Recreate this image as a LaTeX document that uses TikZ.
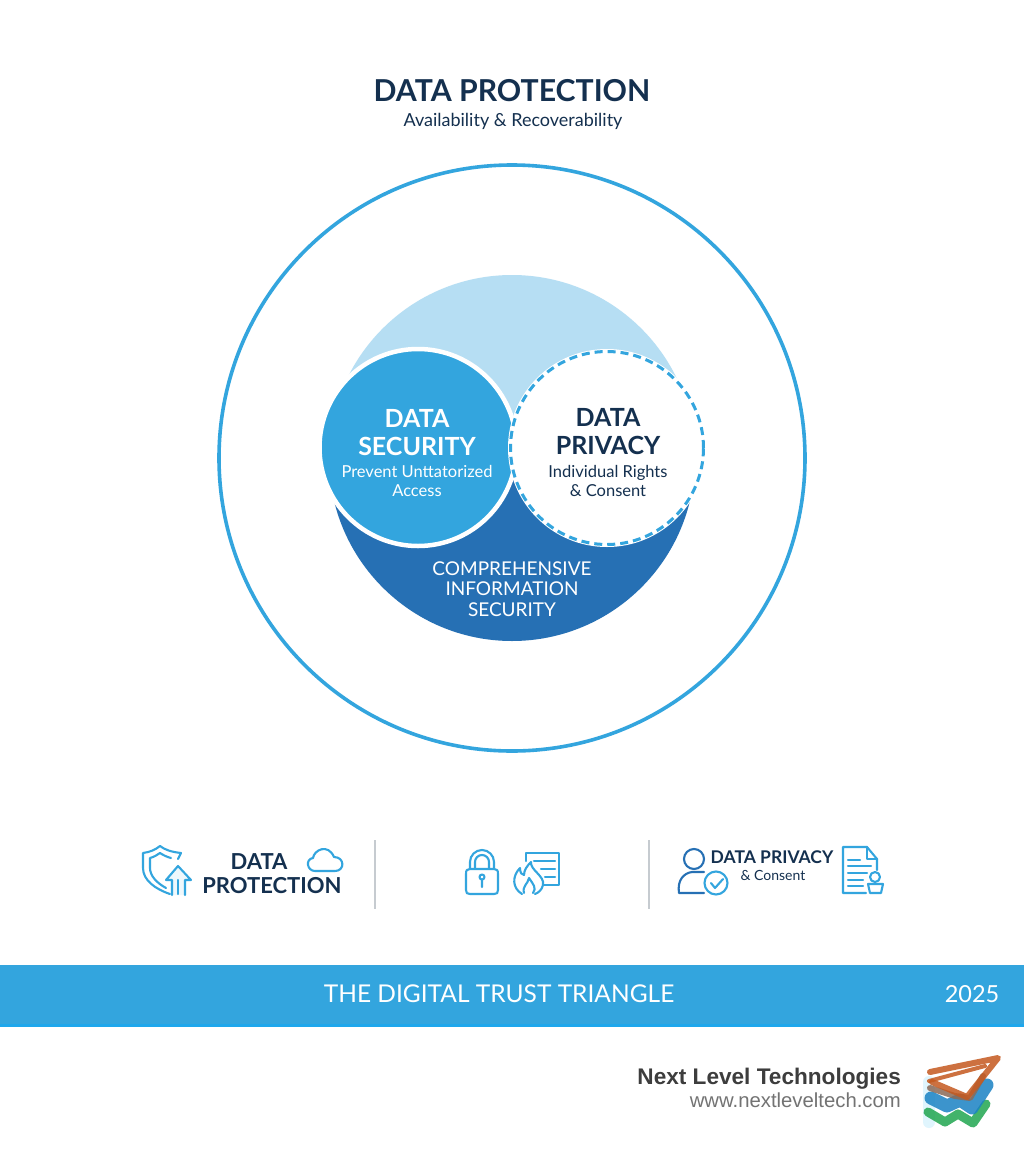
\documentclass[tikz,border=0pt]{standalone}
\usepackage{fontspec}
\setmainfont{Lato}
\newfontfamily\footfont{Liberation Sans}
\usetikzlibrary{positioning}
\definecolor{navy}{HTML}{14304F}
\definecolor{sky}{HTML}{33A5DE}
\definecolor{ocean}{HTML}{2670B4}
\definecolor{pale}{HTML}{B6DEF3}
\definecolor{ruler}{HTML}{C6CBD0}
\definecolor{flash}{HTML}{1EA7EC}
\definecolor{rust}{HTML}{C5591F}
\definecolor{umber}{HTML}{8A6A58}
\definecolor{marine}{HTML}{1A82C4}
\definecolor{leaf}{HTML}{22A650}
\newcommand{\fsize}[1]{\fontsize{#1}{#1}\selectfont}
\tikzset{
  head/.style={text=#1, font=\fsize{25}\bfseries, align=center, inner sep=0pt},
  sub/.style={text=#1, font=\fsize{16.5}, align=center, inner sep=0pt},
  rowhead/.style={text=navy, font=\fsize{22}\bfseries, inner sep=0pt},
  icon/.style={draw=sky, line width=2.1pt, line cap=round, line join=round},
  darkicon/.style={draw=ocean, line width=2.1pt, line cap=round, line join=round},
  bar/.style={draw=ruler, line width=1.2pt},
  brush/.style={line cap=round, line join=round, opacity=.85},
}
\begin{document}
\begin{tikzpicture}[x=1pt, y=-1pt]
  \useasboundingbox (0,0) rectangle (1024,1154);
  \fill[white] (0,0) rectangle (1024,1154);

  % title
  \node[text=navy, font=\fsize{30.2}\bfseries, inner sep=0pt] (title) at (512,91) {DATA PROTECTION};
  \node[text=navy, font=\fsize{18}, inner sep=0pt] (subtitle) at (513,121) {Availability \& Recoverability};

  % circles
  \node[circle, draw=sky, line width=3.6pt, minimum size=586pt] (outer) at (512,458) {};
  \fill[pale] (329,458) arc[start angle=180, end angle=0, radius=183pt] -- cycle;
  \fill[ocean] (329,458) arc[start angle=180, end angle=360, radius=183pt] -- cycle;
  \node[circle, fill=sky, draw=white, line width=4.5pt, minimum size=197pt] (security) at (418,447.5) {};
  \node[circle, fill=white, minimum size=198pt] (privacy) at (607,448) {};
  \node[circle, draw=sky, line width=3pt, dash pattern=on 8pt off 5pt, minimum size=193pt] (ring) at (607,448) {};

  \node[head=white] (sechead) at (417,433) {DATA\\[3pt]SECURITY};
  \node[sub=white] (secsub) at (417,481) {Prevent Unttatorized\\[3pt]Access};
  \node[head=navy] (privhead) at (608,432) {DATA\\[3pt]PRIVACY};
  \node[sub=navy] (privsub) at (608,481) {Individual Rights\\[3pt]\& Consent};
  \node[text=white, font=\fsize{19}, align=center, inner sep=0pt] (info) at (512,589) {COMPREHENSIVE\\[1.5pt]INFORMATION\\[1.5pt]SECURITY};

  % icon row
  \draw[icon] (178,859) -- (181,853) .. controls (172,852) and (165,850) .. (160,846)
     .. controls (155,850) and (150,852) .. (143,853) -- (143,868) .. controls (143,880) and (155,889) .. (170,894);
  \draw[icon] (171,858) .. controls (167,857) and (163,855) .. (160,853)
     .. controls (157,855) and (154,857) .. (150,858) -- (150,868) .. controls (150,876) and (157,883) .. (166,888);
  \draw[icon, fill=sky!8] (172,895) -- (172,880) -- (166,880) -- (178,866) -- (191,880) -- (185,880) -- (185,895);
  \draw[icon] (178,880) -- (178,894);
  \node[rowhead] (prot1) at (259,862) {DATA};
  \node[rowhead] (prot2) at (272,886) {PROTECTION};
  \draw[icon] (315,871) .. controls (307,871) and (305,859) .. (313,858)
     .. controls (314,850) and (328,843) .. (334,857)
     .. controls (345,857) and (345,871) .. (335,871) -- cycle;

  \draw[bar] (375,840) -- (375,909);

  \draw[icon] (466,874) -- (466,890) .. controls (466,893) and (467,894) .. (470,894) -- (494,894)
     .. controls (497,894) and (498,893) .. (498,890) -- (498,874) .. controls (498,870) and (497,869) .. (494,869)
     -- (470,869) .. controls (467,869) and (466,870) .. (466,874) -- cycle;
  \draw[icon] (470,868) -- (470,862) arc[start angle=180, end angle=0, radius=12pt] -- (494,868);
  \draw[icon] (475,868) -- (475,862) arc[start angle=180, end angle=0, radius=7pt] -- (489,868);
  \draw[icon] (482,877) circle (2.5pt) (482,880) -- (482,887);
  \draw[icon] (526,861) -- (526,853) -- (559,853) -- (559,885) -- (543,885);
  \draw[icon] (534,861) -- (555,861) (541,869) -- (555,869) (545,877) -- (555,877);
  \draw[icon] (522,894) .. controls (512,888) and (512,876) .. (520,868) .. controls (520,873) and (522,875) .. (524,875)
     .. controls (524,870) and (527,866) .. (531,862) .. controls (530,870) and (545,876) .. (543,885)
     .. controls (542,890) and (538,893) .. (535,894);
  \draw[icon] (524,893) .. controls (522,886) and (528,884) .. (529,878) .. controls (533,884) and (537,888) .. (533,893);

  \draw[bar] (649,840) -- (649,909);

  \draw[darkicon] (694,859) circle (10pt);
  \draw[darkicon] (704,893) -- (679,893) .. controls (677,880) and (684,873) .. (692,872) -- (704,872);
  \draw[icon] (716,883) circle (11.5pt);
  \draw[icon] (711,883) -- (715,888) -- (723,879);
  \node[text=navy, font=\fsize{17.5}\bfseries, inner sep=0pt] (privacy2) at (772,857) {DATA PRIVACY};
  \node[text=navy, font=\fsize{14}, inner sep=0pt] (consent) at (773,875) {\& Consent};
  \draw[icon] (866,893) -- (843,893) -- (843,847) -- (867,847) -- (877,859) -- (877,870);
  \draw[icon] (867,847) -- (867,859) -- (877,859);
  \draw[icon] (848,860) -- (860,860) (848,866) -- (871,866) (848,873) -- (867,873) (848,880) -- (863,880) (848,886) -- (863,886);
  \draw[icon] (875,877) circle (5pt);
  \draw[icon] (868,884) -- (883,884) -- (881,893) -- (870,893) -- cycle;

  % band
  \fill[sky] (0,965) rectangle (1024,1025);
  \fill[flash] (0,1024) rectangle (1024,1027);
  \node[text=white, font=\fsize{24.5}, inner sep=0pt] (banner) at (499,994) {THE DIGITAL TRUST TRIANGLE};
  \node[text=white, font=\fsize{23.5}, inner sep=0pt] (year) at (972,994) {2025};

  % footer
  \node[text=black!76, font=\footfont\fsize{22.6}\bfseries, anchor=east, inner sep=0pt] (company) at (901,1079) {Next Level Technologies};
  \node[text=black!55, font=\footfont\fsize{20.3}, anchor=east, inner sep=0pt] (site) at (901,1100) {www.nextleveltech.com};

  % logo
  \draw[brush, draw=cyan!12, line width=12pt, opacity=1] (929,1082) -- (929,1122);
  \draw[brush, draw=leaf, line width=9pt] (928,1112) -- (945,1122) -- (958,1114) -- (973,1123) -- (986,1104);
  \draw[brush, draw=marine, line width=13pt] (931,1098) -- (947,1106) -- (960,1100) -- (972,1108) -- (987,1085);
  \draw[brush, draw=umber, line width=6pt] (930,1088) -- (955,1096) -- (970,1098) -- (983,1076);
  \draw[brush, draw=rust, line width=6pt] (930,1072) -- (998,1058) -- (967,1097) -- (932,1082);
  \draw[brush, draw=rust, line width=4pt] (929,1081) -- (985,1066);
\end{tikzpicture}
\end{document}
